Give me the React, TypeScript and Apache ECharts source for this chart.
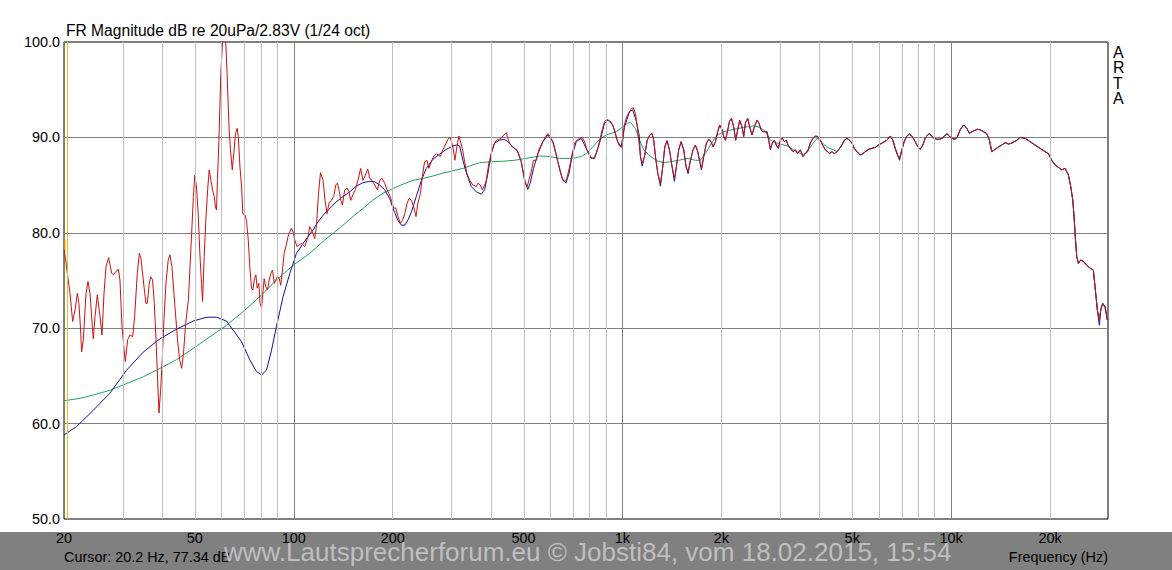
import React, { useEffect, useRef } from 'react';
import * as echarts from 'echarts';

const W = 1172;
const H = 570;

const titleText = 'FR Magnitude dB re 20uPa/2.83V (1/24 oct)';
const cursorText = 'Cursor: 20.2 Hz, 77.34 dB';
const watermarkText = 'www.Lautsprecherforum.eu \u00a9 Jobsti84, vom 18.02.2015, 15:54';
const xAxisName = 'Frequency (Hz)';
const brandText = 'A\nR\nT\nA';

const freqMin = 20;
const freqMax = 30000;
const dbMin = 50;
const dbMax = 100;
const dbStep = 10;
const xLabelFreqs = [20, 50, 100, 200, 500, 1000, 2000, 5000, 10000, 20000];
const minorGridFreqs = [30, 40, 50, 60, 70, 80, 90, 200, 300, 400, 500, 600, 700, 800, 900,
  2000, 3000, 4000, 5000, 6000, 7000, 8000, 9000, 20000];
const majorGridFreqs = [100, 1000, 10000];
const cursorFreq = 20.2;
const cursorMarkDb = [78.2, 79.3];

// measured response, 1/24 oct (Hz, dB)
const redCurve: [number, number][] = [
  [20.0, 78.3], [20.2, 77.34], [20.47, 75.75], [20.86, 73.65], [21.25, 70.7], [21.6, 71.9], [21.96, 73.65], [22.2, 72.6],
  [22.47, 69.8], [22.63, 67.5], [22.9, 68.8], [23.33, 73.65], [23.66, 74.9], [24.0, 73.65], [24.39, 70.2], [24.56, 68.9],
  [24.85, 71.2], [25.26, 73.5], [25.74, 71.2], [26.1, 69.3], [26.47, 73.65], [26.84, 76.45], [27.35, 77.4], [27.93, 75.75],
  [28.26, 75.6], [28.72, 75.9], [29.26, 76.2], [29.6, 75.05], [30.02, 70.2], [30.52, 67.5], [30.73, 66.5], [31.24, 68.8],
  [31.75, 69.3], [32.35, 69.1], [32.8, 71.2], [33.42, 75.75], [33.9, 77.85], [34.29, 77.3], [34.85, 75.05], [35.5, 72.6],
  [35.84, 72.6], [36.35, 74.7], [36.7, 75.4], [37.2, 75.05], [37.65, 72.6], [38.1, 68.8], [38.44, 65.6], [38.9, 61.1],
  [39.35, 63.5], [39.8, 66.7], [40.28, 70.9], [40.85, 74.7], [41.5, 77.15], [42.0, 77.7], [42.6, 76.45], [43.2, 73.65],
  [44.3, 68.8], [44.95, 66.7], [45.6, 65.8], [46.2, 67.4], [46.9, 70.5], [47.8, 73.0], [48.3, 76.1], [48.9, 79.9],
  [49.5, 83.8], [50.0, 86.05], [50.6, 84.8], [51.2, 82.0], [51.8, 77.85], [52.4, 74.7], [52.8, 72.8], [53.4, 77.5],
  [54.0, 81.3], [54.7, 84.5], [55.3, 86.6], [56.0, 85.5], [56.6, 84.5], [57.3, 83.8], [57.8, 82.7], [58.2, 82.4],
  [58.6, 85.5], [59.2, 89.7], [59.6, 93.2], [60.0, 96.7], [60.6, 99.5], [61.0, 101], [61.7, 101], [62.2, 99.5],
  [62.7, 96.7], [63.2, 93.2], [63.6, 90.8], [64.2, 88.7], [65.0, 86.6], [65.7, 88.3], [66.5, 90.4], [67.3, 90.95],
  [67.8, 90.1], [68.6, 86.9], [69.4, 84.8], [70.0, 82.0], [71.0, 81.9], [71.8, 81.3], [72.7, 79.25], [73.5, 76.45],
  [74.4, 74.2], [75.1, 74.0], [75.8, 75.05], [76.7, 75.6], [77.4, 74.2], [78.3, 74.7], [79.0, 72.6], [79.8, 72.1],
  [80.5, 73.65], [81.3, 75.2], [82.2, 74.35], [83.2, 74.0], [84.2, 75.05], [85.2, 75.75], [86.2, 76.1], [87.2, 74.7],
  [88.2, 75.05], [89.2, 75.4], [90.3, 75.2], [91.3, 74.5], [92.4, 76.1], [93.5, 77.85], [94.6, 78.55], [96.1, 79.6],
  [97.3, 80.1], [98.4, 80.5], [99.8, 79.95], [100.7, 79.25], [102.3, 78.55], [105.5, 78.9], [108, 78.55], [110.5, 79.6],
  [111.8, 80.65], [114, 80.1], [115.8, 79.4], [117.2, 80.65], [118.9, 84.1], [120.6, 86.3], [122.8, 85.5], [124.5, 83.4],
  [126.2, 82.0], [128, 83.1], [130.2, 83.4], [132.3, 83.8], [134.2, 85.0], [135.7, 85.2], [137.3, 84.5], [139, 83.4],
  [140.6, 82.9], [142.9, 84.5], [145.2, 84.7], [147.3, 84.3], [149, 83.4], [151.4, 84.0], [153.9, 84.5], [156.8, 85.5],
  [159.8, 86.75], [162.4, 85.5], [165.2, 86.05], [167.9, 86.7], [170.3, 85.7], [173, 85.5], [176.3, 85.0], [179.7, 84.5],
  [182.6, 85.5], [185.6, 85.7], [189.1, 85.2], [192.2, 84.5], [194.9, 84.1], [198.3, 83.4], [201.3, 82.6], [204.2, 82.6],
  [207.5, 81.7], [211.1, 81.0], [214.1, 81.3], [217.6, 82.0], [221.2, 83.1], [224.3, 83.6], [228.1, 83.4], [231.8, 82.7],
  [235.5, 81.7], [238.6, 83.1], [242.8, 84.1], [246.2, 85.9], [250, 87.45], [254.2, 87.6], [257.7, 86.75], [262, 87.45],
  [266.3, 88.0], [271.4, 88.3], [275.2, 88.15], [279.1, 88.0], [284.2, 88.7], [289, 89.2], [294.3, 89.8], [299.3, 90.0],
  [304.9, 89.0], [309.2, 87.6], [313.5, 89.0], [318, 90.15], [325.7, 88.85], [331, 87.45], [336.4, 86.2], [342.8, 85.5],
  [350.8, 85.0], [359.2, 84.85], [363.3, 85.2], [369.4, 85.0], [374.6, 84.5], [380.7, 85.0], [385.2, 85.5], [392.3, 87.3],
  [398.9, 88.3], [405.4, 89.2], [413.1, 89.7], [420.7, 89.8], [427.8, 89.9], [435.7, 90.25], [443.1, 90.5], [448.1, 89.9],
  [453.4, 89.4], [462.1, 89.0], [469.6, 88.85], [477.2, 88.7], [483.9, 88.15], [492.1, 87.45], [500.1, 86.2], [507.2, 85.2],
  [513.2, 84.85], [519, 85.5], [527.8, 86.4], [536.3, 87.6], [546.6, 87.6], [556.6, 88.7], [566, 89.2], [575.3, 89.7],
  [586.2, 90.15], [592.9, 90.4], [602.9, 90.1], [614, 89.55], [625.8, 88.5], [635.9, 87.45], [646.7, 86.4], [658.6, 85.5],
  [667.9, 85.35], [677.4, 85.7], [690.3, 86.9], [703.4, 88.3], [714.9, 89.4], [726.5, 89.7], [740.3, 89.9], [754.4, 90.0],
  [766.7, 89.55], [779.1, 88.7], [794, 88.15], [809.1, 87.8], [822.3, 87.98], [835.6, 88.5], [851.5, 89.55], [867.7, 90.8],
  [881.8, 91.65], [896.1, 91.9], [913.1, 91.75], [927.9, 91.5], [945.6, 90.8], [961, 89.8], [979.2, 89.1], [993, 88.95],
  [1002, 89.55], [1014, 91.3], [1030, 92.2], [1050, 92.7], [1067, 93.05], [1080, 93.1], [1095, 92.5], [1108, 91.3],
  [1121, 89.7], [1134, 88.0], [1148, 87.3], [1167, 88.0], [1189, 89.7], [1211, 90.25], [1231, 90.4], [1245, 89.7],
  [1260, 88.0], [1281, 86.2], [1305, 85.2], [1326, 86.9], [1345, 89.0], [1367, 89.65], [1390, 88.7], [1416, 86.9],
  [1439, 85.7], [1459, 86.9], [1483, 88.7], [1508, 89.55], [1536, 88.7], [1562, 86.9], [1584, 86.4], [1610, 87.6],
  [1640, 88.7], [1667, 89.2], [1695, 88.5], [1719, 87.45], [1739, 86.75], [1767, 88.0], [1801, 89.4], [1830, 89.8],
  [1861, 89.55], [1887, 89.0], [1918, 89.55], [1949, 90.6], [1977, 91.3], [2009, 90.8], [2033, 90.1], [2057, 89.7],
  [2080, 90.4], [2115, 91.65], [2145, 92.0], [2180, 91.1], [2211, 89.7], [2242, 90.8], [2273, 91.8], [2311, 91.1],
  [2338, 90.1], [2366, 91.5], [2404, 92.0], [2438, 91.1], [2478, 90.25], [2519, 91.1], [2567, 91.8], [2603, 91.5],
  [2640, 90.8], [2677, 90.6], [2721, 90.6], [2753, 90.6], [2785, 89.7], [2818, 88.85], [2857, 89.4], [2897, 89.7],
  [2938, 89.2], [2980, 88.85], [3021, 89.7], [3064, 89.9], [3108, 89.55], [3151, 89.7], [3188, 89.2], [3241, 88.85],
  [3302, 88.5], [3356, 88.7], [3411, 88.3], [3476, 88.7], [3541, 88.0], [3600, 88.3], [3659, 88.5], [3728, 89.4],
  [3798, 89.9], [3861, 90.15], [3924, 90.1], [3998, 89.7], [4064, 89.2], [4141, 88.7], [4209, 88.5], [4268, 88.3],
  [4339, 88.5], [4410, 88.3], [4493, 88.5], [4578, 88.85], [4653, 89.2], [4730, 89.7], [4819, 89.9], [4910, 89.7],
  [4991, 89.4], [5073, 88.85], [5169, 88.5], [5290, 88.15], [5390, 88.3], [5479, 88.5], [5608, 88.75], [5741, 88.85],
  [5875, 88.95], [6013, 89.2], [6156, 89.4], [6376, 89.7], [6526, 90.15], [6649, 89.7], [6758, 88.85], [6870, 88.15],
  [6967, 87.8], [7080, 88.7], [7196, 89.55], [7332, 90.15], [7471, 90.35], [7612, 90.1], [7774, 89.55], [7920, 89.0],
  [8051, 88.75], [8202, 89.2], [8337, 89.9], [8475, 90.25], [8594, 90.4], [8736, 90.1], [8880, 89.9], [9047, 89.8],
  [9217, 89.8], [9369, 89.9], [9524, 90.1], [9703, 90.4], [9886, 90.1], [10046, 89.9], [10285, 89.8], [10454, 90.1],
  [10651, 90.8], [10902, 91.3], [11159, 90.95], [11369, 90.4], [11557, 90.6], [11748, 90.7], [12023, 90.85], [12250, 90.8],
  [12540, 90.6], [12835, 90.4], [13077, 89.7], [13292, 88.5], [13606, 88.75], [13929, 89.0], [14256, 89.2], [14592, 89.45],
  [14938, 89.3], [15290, 89.4], [15835, 89.7], [16209, 90.0], [16786, 89.9], [17384, 89.55], [18003, 89.2], [18645, 88.85],
  [19310, 88.5], [19765, 88.3], [20230, 87.6], [20707, 87.1], [21196, 86.85], [21697, 86.6], [22209, 86.75], [22734, 86.05],
  [23108, 84.85], [23434, 83.45], [23653, 81.7], [23817, 79.95], [24097, 77.5], [24380, 76.8], [24780, 77.15], [25246, 77.0],
  [25843, 76.6], [26453, 76.3], [27077, 76.1], [27394, 74.35], [27846, 71.9], [28239, 70.85], [28505, 71.9], [28907, 72.6],
  [29383, 72.25], [29868, 70.85],
];

// blue trace below 1.13 kHz (Hz, dB); above that it lies under the red trace
const blueLowCurve: [number, number][] = [
  [20.0, 58.8], [21.85, 59.7], [24.56, 61.4], [27.6, 63.2], [31.0, 65.6], [34.85, 67.5], [39.2, 68.9], [44.0, 69.9],
  [49.5, 70.75], [54.3, 71.15], [58.2, 71.15], [62.4, 70.75], [65.4, 69.8], [69.3, 68.6], [73.5, 66.7], [77.0, 65.45],
  [79.8, 65.1], [82.6, 65.6], [85.6, 67.7], [88.6, 70.2], [92.8, 73.3], [97.3, 75.75], [101.9, 77.85], [106.8, 78.9],
  [110.5, 79.6], [114.5, 80.3], [118.5, 81.15], [122.8, 81.85], [128.7, 82.55], [134.8, 83.25], [141.2, 83.8], [148, 84.3],
  [155, 84.9], [162.4, 85.25], [170.3, 85.4], [176.3, 85.35], [182.6, 85.0], [189.1, 84.5], [195.8, 83.6], [201.3, 82.4],
  [207.5, 81.3], [212.6, 80.8], [217.6, 80.8], [222.6, 81.35], [228.1, 82.2], [235.9, 83.8], [244.5, 85.5], [253, 86.75],
  [265, 87.7], [277.8, 88.25], [291.3, 88.75], [304.9, 89.1], [312.2, 89.2], [319.6, 89.1], [327, 87.6], [335, 86.3],
  [346.8, 84.85], [359.2, 84.3], [371.9, 84.05], [380.7, 84.5], [389.5, 86.2], [398.9, 88.3], [408.4, 89.4], [422.9, 89.7],
  [435.7, 89.8], [448.1, 89.55], [464.1, 89.0], [481, 88.5], [492.1, 87.45], [503.5, 85.5], [515.3, 84.55], [523.9, 85.2],
  [536.3, 86.75], [553.1, 88.3], [573.1, 89.55], [592.9, 90.25], [614, 89.55], [635.9, 87.45], [655.8, 85.7], [672.6, 85.2],
  [687.5, 86.2], [703.4, 88.15], [723.3, 89.55], [749.1, 89.9], [775.9, 88.85], [803.5, 87.8], [822.3, 87.8], [851.5, 89.4],
  [881.8, 91.5], [903.7, 91.8], [934.2, 91.3], [967.6, 89.55], [990.9, 89.0], [1014, 91.1], [1050, 92.7], [1074, 92.9],
  [1100, 91.8], [1126, 90.1],
];

// points where the blue trace dips a little deeper than the red one (Hz, dB)
const blueDips: [number, number][] = [
  [1148, 87.0], [1305, 84.9], [1439, 85.4], [1584, 86.2], [1739, 86.6], [2818, 88.7], [6967, 87.6], [28239, 70.3],
];

// smoothed (green) trace below 4.5 kHz (Hz, dB); above that it lies under the red trace
const greenLowCurve: [number, number][] = [
  [20, 62.4], [22.4, 62.65], [24.56, 63.0], [27.6, 63.5], [31.0, 64.2], [34.85, 64.9], [39.2, 65.8], [44.0, 66.7],
  [49.5, 67.9], [55.6, 69.1], [62.4, 70.3], [70.2, 71.75], [78.8, 73.3], [88.6, 75.05], [99.6, 76.6], [111.9, 77.85],
  [124.2, 79.25], [131.7, 79.95], [141.2, 80.8], [151.4, 81.7], [162.4, 82.55], [174.2, 83.45], [186.9, 84.15], [200.5, 84.65],
  [215, 85.1], [230.6, 85.5], [247.4, 85.7], [265, 85.95], [284.2, 86.25], [304.9, 86.5], [327.1, 86.75], [342.8, 87.0],
  [367.8, 87.35], [398.9, 87.45], [432.6, 87.5], [469.6, 87.6], [509, 87.8], [559.8, 88.05], [599.8, 88.0], [643.8, 87.8],
  [706, 87.8], [749.1, 88.0], [775.9, 88.3], [812.4, 89.0], [851.5, 89.8], [894.3, 90.25], [957, 90.6], [1002, 91.1],
  [1037, 91.5], [1058, 91.55], [1095, 90.95], [1121, 89.9], [1161, 88.7], [1216, 88.0], [1275, 87.55], [1335, 87.35],
  [1399, 87.45], [1483, 87.6], [1573, 87.8], [1667, 87.6], [1726, 87.6], [1788, 88.3], [1851, 89.2], [1940, 90.25],
  [2033, 90.6], [2180, 90.85], [2338, 91.05], [2508, 91.2], [2627, 91.05], [2721, 90.6], [2818, 89.7], [2953, 89.4],
  [3170, 89.1], [3398, 88.5], [3557, 88.15], [3728, 89.0], [3905, 89.9], [4186, 89.0], [4493, 88.5],
];

const FONT = '"Liberation Sans", Arial, sans-serif';
const lg = (f: number) => Math.log10(f);
const toXY = (pts: [number, number][]) => pts.map(([f, v]) => [lg(f), v]);

const blueCurve: [number, number][] = [
  ...blueLowCurve,
  ...redCurve
    .filter(([f]) => f > 1130)
    .map(([f, v]) => {
      const d = blueDips.find(([df]) => df === f);
      return [f, d ? d[1] : v] as [number, number];
    }),
];
const greenCurve: [number, number][] = [...greenLowCurve, ...redCurve.filter(([f]) => f > 4500)];

const fmtFreq = (v: number) => {
  const f = Math.round(Math.pow(10, v));
  return f >= 1000 ? `${Math.round(f / 1000)}k` : `${f}`;
};

export default function App() {
  const ref = useRef<HTMLDivElement>(null);
  useEffect(() => {
    if (!ref.current) return;
    const chart = echarts.init(ref.current, undefined, { renderer: 'svg' });
    const lineSeries = (name: string, data: [number, number][], color: string, z: number) => ({
      name,
      type: 'line',
      data: toXY(data),
      symbol: 'none',
      showSymbol: false,
      silent: true,
      z,
      lineStyle: { color, width: 1 },
    });
    chart.setOption({
      animation: false,
      backgroundColor: '#ffffff',
      textStyle: { fontFamily: FONT },
      grid: {
        left: 64,
        top: 42,
        width: 1044,
        height: 477,
        show: true,
        borderColor: '#000000',
        borderWidth: 1,
        backgroundColor: 'transparent',
      },
      xAxis: {
        type: 'value',
        min: lg(freqMin),
        max: lg(freqMax),
        axisLine: { show: false },
        axisTick: { show: false },
        splitLine: { show: false },
        axisLabel: {
          customValues: xLabelFreqs.map(lg),
          formatter: fmtFreq,
          color: '#000000',
          fontSize: 14.4,
          fontFamily: FONT,
          margin: 12,
        },
      },
      yAxis: {
        type: 'value',
        min: dbMin,
        max: dbMax,
        interval: dbStep,
        axisLine: { show: false },
        axisTick: { show: false },
        splitLine: { show: true, lineStyle: { color: '#808080', width: 1 } },
        axisLabel: {
          formatter: (v: number) => v.toFixed(1),
          color: '#000000',
          fontSize: 14.4,
          fontFamily: FONT,
          margin: 4,
        },
      },
      graphic: [
        {
          type: 'rect',
          left: 0,
          top: 532,
          z: -1,
          shape: { width: W, height: H - 532 },
          style: { fill: '#808080' },
        },
        {
          type: 'text',
          left: 66,
          top: 22,
          style: { text: titleText, font: `15.6px ${FONT}`, fill: '#000000' },
        },
        {
          type: 'text',
          left: 1113,
          top: 44,
          style: { text: brandText, font: `16px ${FONT}`, fill: '#000000', lineHeight: 15.5 },
        },
        {
          type: 'text',
          left: 64,
          top: 550,
          z: 5,
          style: { text: cursorText, font: `14.4px ${FONT}`, fill: '#000000' },
        },
        {
          type: 'text',
          right: 64,
          top: 550,
          z: 5,
          style: { text: xAxisName, font: `14.4px ${FONT}`, fill: '#000000' },
        },
        {
          type: 'text',
          left: 224,
          top: 539,
          z: 6,
          style: { text: watermarkText, font: `26px ${FONT}`, fill: '#bfbfbf' },
        },
      ],
      series: [
        {
          name: 'grid',
          type: 'line',
          data: [],
          silent: true,
          z: 1,
          markLine: {
            silent: true,
            symbol: ['none', 'none'],
            label: { show: false },
            lineStyle: { type: 'solid', width: 1, color: '#c0c0c0' },
            data: [
              ...minorGridFreqs.map((f) => ({ xAxis: lg(f), lineStyle: { color: '#c0c0c0', type: 'solid', width: 1 } })),
              ...majorGridFreqs.map((f) => ({ xAxis: lg(f), lineStyle: { color: '#808080', type: 'solid', width: 1 } })),
              { xAxis: lg(cursorFreq), lineStyle: { color: '#d8d000', type: 'solid', width: 1 } },
            ],
          },
          markArea: {
            silent: true,
            itemStyle: { color: '#ff8000' },
            data: [[{ xAxis: lg(freqMin), yAxis: cursorMarkDb[0] }, { xAxis: lg(cursorFreq), yAxis: cursorMarkDb[1] }]],
          },
        },
        lineSeries('smoothed', greenCurve, '#1fa060', 2),
        lineSeries('blue', blueCurve, '#12129a', 3),
        lineSeries('measured', redCurve, '#cc1111', 4),
      ],
    });
    return () => chart.dispose();
  }, []);
  return <div ref={ref} style={{ position: 'absolute', left: 0, top: 0, width: W, height: H }} />;
}
